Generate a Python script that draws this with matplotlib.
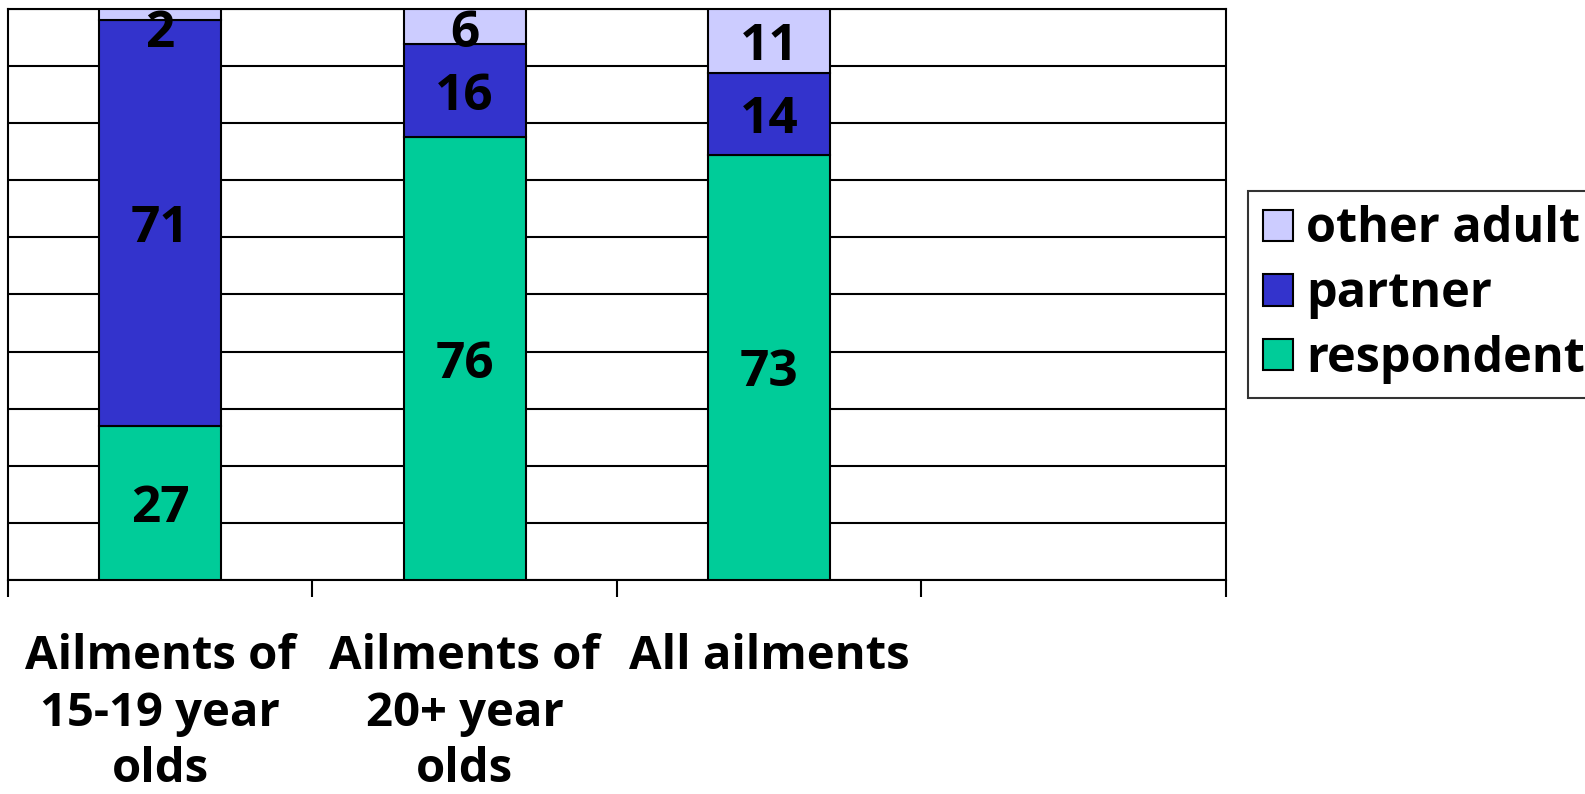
import numpy as np
import matplotlib
matplotlib.use("Agg")
import matplotlib.pyplot as plt

# ---- data ----
categories = ["Ailments of\n15-19 year\nolds", "Ailments of\n20+ year\nolds", "All ailments"]
respondent = [27, 76, 73]
partner = [71, 16, 14]
other_adult = [2, 6, 11]

series = [("respondent", respondent, "#00CC99"),
          ("partner", partner, "#3333CC"),
          ("other adult", other_adult, "#CCCCFF")]

plt.rcParams['font.family'] = ['Open Sans', 'DejaVu Sans']
plt.rcParams['font.weight'] = 'bold'

fig = plt.figure(figsize=(15.85, 7.94), dpi=100)
ax = fig.add_axes([0.005, 0.2695, 0.7685, 0.7192])

x = np.arange(len(categories))
totals = np.array(respondent) + np.array(partner) + np.array(other_adult)
bottom = np.zeros(len(categories))
for name, vals, color in series:
    share = np.array(vals) / totals
    ax.bar(x, share, 0.4, bottom=bottom, color=color, edgecolor="black",
           linewidth=1.5, label=name, zorder=3)
    for xi, b, h, v in zip(x, bottom, share, vals):
        # keep labels of thin top segments inside the plot area
        yc = min(b + h / 2, 0.967)
        ax.text(xi, yc, str(v), ha="center", va="center_baseline", fontsize=37,
                fontweight="bold", color="black", zorder=4)
    bottom += share

ax.set_xlim(-0.5, 3.5)
ax.set_ylim(0, 1)
ax.set_yticks(np.arange(0, 1.01, 0.1))
ax.yaxis.grid(True, color="black", linewidth=1.5, zorder=0)
ax.tick_params(axis="y", length=0, labelleft=False)

# tick marks at category boundaries, labels at centers
ax.set_xticks(np.arange(-0.5, 3.6, 1))
ax.tick_params(axis="x", which="major", length=12, width=1.5, labelbottom=False)
ax.set_xticks(x, minor=True)
ax.set_xticklabels(categories, minor=True, fontsize=34, fontweight="bold",
                   linespacing=1.27)
ax.tick_params(axis="x", which="minor", length=0, pad=38)

for s in ax.spines.values():
    s.set_color("black")
    s.set_linewidth(1.5)

handles, labels = ax.get_legend_handles_labels()
leg = ax.legend(handles[::-1], labels[::-1], loc="center left",
                bbox_to_anchor=(1.018, 0.50), fontsize=35, frameon=True,
                fancybox=False, edgecolor="black", handlelength=0.62,
                handleheight=0.62, handletextpad=0.27, labelspacing=0.32,
                borderpad=0.3, borderaxespad=0)
leg.get_frame().set_linewidth(1.5)
for t in leg.get_texts():
    t.set_fontweight("bold")

fig.savefig("out.png", dpi=100)
